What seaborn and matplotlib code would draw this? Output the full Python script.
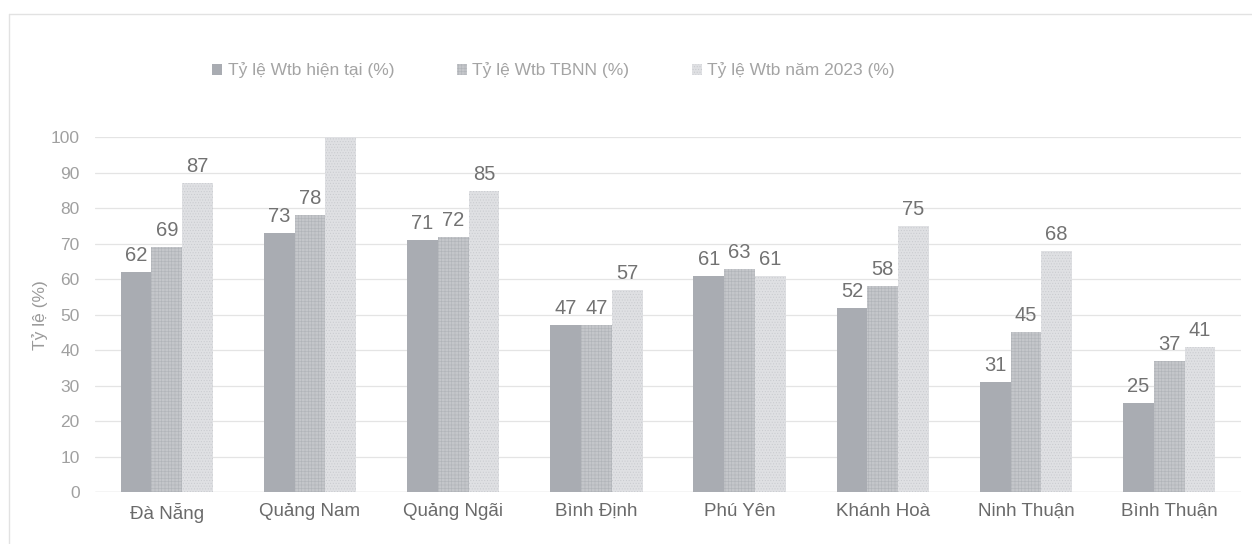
import matplotlib
matplotlib.use("Agg")
import matplotlib.pyplot as plt
import seaborn as sns
import pandas as pd
from matplotlib.lines import Line2D

provinces = ["Đà Nẵng", "Quảng Nam", "Quảng Ngãi", "Bình Định",
             "Phú Yên", "Khánh Hoà", "Ninh Thuận", "Bình Thuận"]
series_names = ["Tỷ lệ Wtb hiện tại (%)", "Tỷ lệ Wtb TBNN (%)", "Tỷ lệ Wtb năm 2023 (%)"]
current = [62, 73, 71, 47, 61, 52, 31, 25]
average = [69, 78, 72, 47, 63, 58, 45, 37]
year_2023 = [87, 100, 85, 57, 61, 75, 68, 41]
# the 2023 bar for Quảng Nam runs past the top of the axis, so it carries no label
labels_2023 = ["87", "", "85", "57", "61", "75", "68", "41"]
yticks = [0, 10, 20, 30, 40, 50, 60, 70, 80, 90, 100]

df = pd.DataFrame({
    "province": provinces * 3,
    "series": [series_names[0]] * 8 + [series_names[1]] * 8 + [series_names[2]] * 8,
    "value": current + average + year_2023,
})

sns.set_theme(style="white")
plt.rcParams["font.family"] = ["Liberation Sans", "DejaVu Sans"]
plt.rcParams["hatch.linewidth"] = 0.4

fig = plt.figure(figsize=(12.52, 5.44), dpi=100)
ax = fig.add_axes([0.076, 0.0956, 0.915, 0.652])

fills = ["#a9acb2", "#c4c6ca", "#dfe0e3"]
hatch_colors = ["#a9acb2", "#b0b3b8", "#c8cace"]
hatches = ["", "+++++", "......"]

sns.barplot(data=df, x="province", y="value", hue="series", order=provinces,
            hue_order=series_names, palette=fills, width=0.645, gap=0,
            saturation=1, ax=ax, legend=False)

for container, fc, hc, h in zip(ax.containers, fills, hatch_colors, hatches):
    for bar in container:
        bar.set_facecolor(fc)
        bar.set_hatch(h)
        bar.set_edgecolor(hc)
        bar.set_linewidth(0.0)

label_sets = [[str(v) for v in current], [str(v) for v in average], labels_2023]
for container, labs in zip(ax.containers, label_sets):
    ax.bar_label(container, labels=labs, padding=5, fontsize=14.5, color="#727272")

ax.set_ylim(0, 100)
ax.set_xlim(-0.5, 7.5)
ax.set_yticks(yticks)
ax.tick_params(axis="y", labelsize=12.5, labelcolor="#a0a0a0", length=0, pad=11)
ax.tick_params(axis="x", labelsize=13.5, labelcolor="#6a6a6a", length=0, pad=8)
ax.yaxis.grid(True, color="#e4e4e4", linewidth=0.9)
ax.set_axisbelow(True)
for side in ["top", "right", "left", "bottom"]:
    ax.spines[side].set_visible(False)
ax.axhline(0, color="#dcdcdc", linewidth=1.0, zorder=0.5)
ax.set_xlabel("")
ax.set_ylabel("Tỷ lệ (%)", fontsize=12.5, color="#9a9a9a", labelpad=2)

handles = [plt.Rectangle((0, 0), 1, 1, facecolor=fc, edgecolor=hc, hatch=h, linewidth=0)
           for fc, hc, h in zip(fills, hatch_colors, hatches)]
fig.legend(handles, series_names, loc="center", bbox_to_anchor=(0.442, 0.871), ncol=3,
           frameon=False, fontsize=12.5, labelcolor="#a4a4a4", handlelength=0.6,
           handleheight=0.6, handletextpad=0.3, columnspacing=3.6)

# outer chart frame
fig.add_artist(Line2D([0.007, 0.007], [0.0, 0.975], transform=fig.transFigure,
                      color="#e2e2e2", linewidth=1.0))
fig.add_artist(Line2D([0.007, 1.0], [0.975, 0.975], transform=fig.transFigure,
                      color="#e2e2e2", linewidth=1.0))

fig.savefig("out.png", dpi=100)
